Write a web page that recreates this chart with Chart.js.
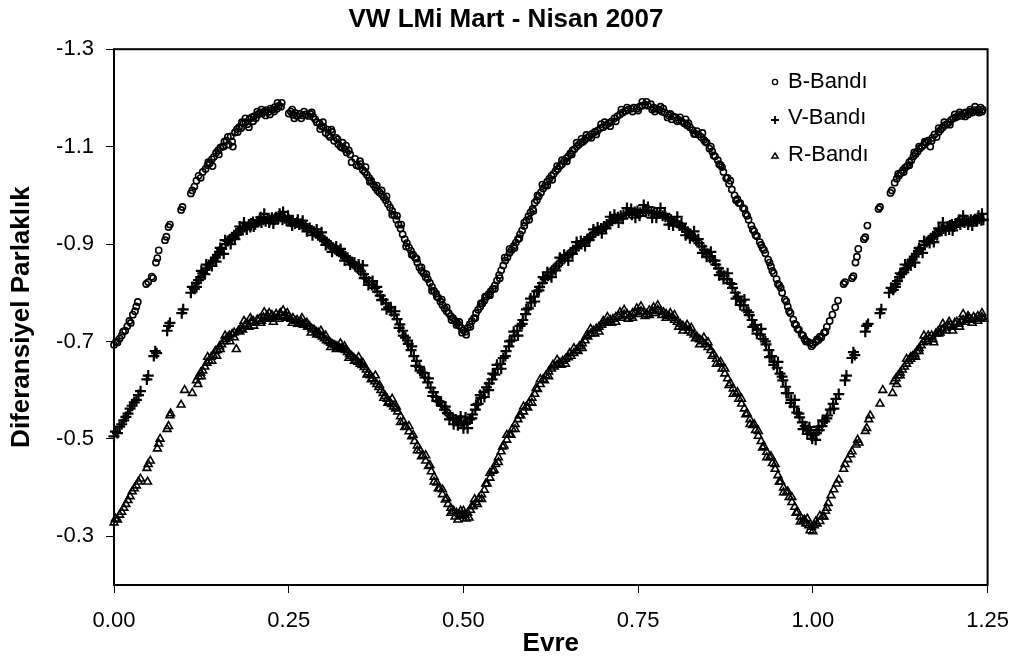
<!DOCTYPE html>
<html>
<head>
<meta charset="utf-8">
<title>VW LMi</title>
<script src="https://cdn.jsdelivr.net/npm/chart.js@4.4.0/dist/chart.umd.min.js"></script>
<style>
    body { margin: 0; background: #fff; }
    #grafik { display: block; }
</style>
</head>
<body>
<canvas id="grafik" width="1024" height="659"></canvas>
<script>
// Eksen etiketleri
var evreEtiketleri = [0, 0.25, 0.5, 0.75, 1.0, 1.25];
var parlaklikEtiketleri = [-1.3, -1.1, -0.9, -0.7, -0.5, -0.3];

var seriAdlari = ['B-Bandı', 'V-Bandı', 'R-Bandı'];

// [evre, diferansiyel parlaklik]
var bBandi = [
    [0.000, -0.693], [0.003, -0.700], [0.005, -0.698], [0.008, -0.706], [0.011, -0.712], [0.013, -0.720],
    [0.016, -0.722], [0.019, -0.731], [0.022, -0.742], [0.024, -0.738], [0.027, -0.755], [0.030, -0.762],
    [0.032, -0.772], [0.034, -0.781], [0.046, -0.818], [0.049, -0.822], [0.054, -0.833], [0.056, -0.830],
    [0.060, -0.862], [0.062, -0.871], [0.064, -0.887], [0.073, -0.908], [0.075, -0.915], [0.078, -0.935],
    [0.080, -0.940], [0.096, -0.970], [0.098, -0.976], [0.110, -1.004], [0.112, -1.010], [0.115, -1.018],
    [0.118, -1.030], [0.121, -1.040], [0.124, -1.036], [0.127, -1.048], [0.131, -1.054], [0.134, -1.062],
    [0.137, -1.066], [0.140, -1.074], [0.143, -1.079], [0.146, -1.087], [0.149, -1.092], [0.152, -1.098],
    [0.155, -1.100], [0.158, -1.110], [0.161, -1.112], [0.164, -1.104], [0.167, -1.121], [0.170, -1.100],
    [0.173, -1.129], [0.176, -1.136], [0.179, -1.140], [0.182, -1.138], [0.185, -1.148], [0.188, -1.150],
    [0.191, -1.146], [0.194, -1.157], [0.197, -1.160], [0.200, -1.162], [0.203, -1.158], [0.206, -1.166],
    [0.209, -1.170], [0.212, -1.168], [0.215, -1.172], [0.218, -1.175], [0.221, -1.171], [0.224, -1.178],
    [0.227, -1.176], [0.230, -1.181], [0.233, -1.178], [0.236, -1.184], [0.239, -1.182], [0.250, -1.168],
    [0.253, -1.172], [0.256, -1.165], [0.259, -1.169], [0.262, -1.163], [0.266, -1.167], [0.270, -1.164],
    [0.274, -1.166], [0.278, -1.163], [0.281, -1.167], [0.285, -1.161], [0.290, -1.150], [0.294, -1.148],
    [0.297, -1.142], [0.300, -1.140], [0.303, -1.128], [0.306, -1.135], [0.309, -1.120], [0.312, -1.130],
    [0.315, -1.112], [0.318, -1.118], [0.321, -1.105], [0.324, -1.100], [0.327, -1.108], [0.330, -1.095],
    [0.333, -1.088], [0.336, -1.092], [0.340, -1.068], [0.345, -1.075], [0.350, -1.060], [0.353, -1.064],
    [0.356, -1.052], [0.359, -1.048], [0.362, -1.042], [0.365, -1.036], [0.368, -1.030], [0.371, -1.022],
    [0.374, -1.016], [0.377, -1.010], [0.380, -1.006], [0.383, -1.002], [0.386, -0.996], [0.389, -0.990],
    [0.392, -0.982], [0.395, -0.975], [0.398, -0.968], [0.401, -0.960], [0.404, -0.950], [0.407, -0.940],
    [0.410, -0.932], [0.413, -0.920], [0.416, -0.910], [0.419, -0.902], [0.422, -0.893], [0.425, -0.886],
    [0.428, -0.878], [0.431, -0.872], [0.434, -0.862], [0.437, -0.852], [0.440, -0.845], [0.443, -0.840],
    [0.446, -0.832], [0.449, -0.828], [0.452, -0.820], [0.455, -0.812], [0.458, -0.804], [0.461, -0.798],
    [0.464, -0.790], [0.467, -0.782], [0.470, -0.775], [0.473, -0.768], [0.476, -0.762], [0.479, -0.758],
    [0.482, -0.752], [0.485, -0.748], [0.488, -0.742], [0.491, -0.738], [0.494, -0.733], [0.497, -0.728],
    [0.500, -0.723], [0.503, -0.720], [0.506, -0.728], [0.509, -0.735], [0.512, -0.742], [0.515, -0.748],
    [0.518, -0.758], [0.521, -0.765], [0.524, -0.771], [0.527, -0.778], [0.530, -0.784], [0.533, -0.792],
    [0.536, -0.797], [0.539, -0.803], [0.542, -0.808], [0.545, -0.815], [0.548, -0.825], [0.551, -0.836],
    [0.554, -0.846], [0.557, -0.856], [0.560, -0.866], [0.563, -0.873], [0.566, -0.882], [0.569, -0.888],
    [0.572, -0.896], [0.575, -0.903], [0.578, -0.910], [0.581, -0.920], [0.584, -0.928], [0.587, -0.937],
    [0.590, -0.948], [0.593, -0.957], [0.596, -0.965], [0.599, -0.972], [0.602, -0.985], [0.605, -0.990],
    [0.608, -0.998], [0.611, -1.006], [0.614, -1.014], [0.617, -1.020], [0.620, -1.028], [0.623, -1.034],
    [0.626, -1.040], [0.629, -1.044], [0.632, -1.050], [0.635, -1.054], [0.638, -1.060], [0.641, -1.064],
    [0.644, -1.070], [0.647, -1.076], [0.650, -1.080], [0.653, -1.086], [0.656, -1.092], [0.659, -1.095],
    [0.662, -1.100], [0.665, -1.104], [0.668, -1.108], [0.671, -1.110], [0.674, -1.114], [0.677, -1.118],
    [0.680, -1.121], [0.684, -1.126], [0.688, -1.130], [0.692, -1.133], [0.696, -1.138], [0.700, -1.140],
    [0.704, -1.144], [0.708, -1.148], [0.712, -1.152], [0.716, -1.158], [0.720, -1.162], [0.724, -1.166],
    [0.728, -1.170], [0.732, -1.173], [0.736, -1.176], [0.740, -1.178], [0.744, -1.180], [0.748, -1.178],
    [0.752, -1.182], [0.756, -1.184], [0.760, -1.186], [0.764, -1.184], [0.768, -1.187], [0.772, -1.180],
    [0.776, -1.178], [0.780, -1.176], [0.784, -1.172], [0.788, -1.170], [0.792, -1.160], [0.796, -1.167],
    [0.800, -1.162], [0.804, -1.160], [0.808, -1.155], [0.812, -1.152], [0.816, -1.148], [0.820, -1.144],
    [0.824, -1.140], [0.828, -1.134], [0.832, -1.126], [0.836, -1.125], [0.840, -1.120], [0.844, -1.114],
    [0.848, -1.108], [0.852, -1.096], [0.856, -1.090], [0.860, -1.080], [0.864, -1.072], [0.868, -1.062],
    [0.872, -1.048], [0.876, -1.035], [0.880, -1.024], [0.884, -1.012], [0.888, -1.000], [0.892, -0.992],
    [0.896, -0.984], [0.900, -0.974], [0.904, -0.962], [0.908, -0.950], [0.912, -0.938], [0.916, -0.926],
    [0.920, -0.916], [0.924, -0.904], [0.928, -0.892], [0.932, -0.881], [0.936, -0.868], [0.940, -0.854],
    [0.944, -0.840], [0.948, -0.828], [0.952, -0.815], [0.956, -0.800], [0.960, -0.786], [0.964, -0.772],
    [0.968, -0.758], [0.972, -0.745], [0.976, -0.734], [0.980, -0.724], [0.984, -0.714], [0.988, -0.705],
    [0.992, -0.700], [0.996, -0.697], [1.000, -0.694], [1.004, -0.699], [1.008, -0.703], [1.012, -0.708],
    [1.016, -0.718], [1.020, -0.730], [1.024, -0.742], [1.028, -0.755], [1.032, -0.770], [1.036, -0.784],
    [1.044, -0.818], [1.046, -0.822], [1.056, -0.830], [1.058, -0.834], [1.061, -0.862], [1.063, -0.874],
    [1.065, -0.890], [1.073, -0.910], [1.075, -0.914], [1.078, -0.938], [1.094, -0.972], [1.096, -0.976],
    [1.111, -1.005], [1.113, -1.010], [1.117, -1.026], [1.120, -1.034], [1.123, -1.040], [1.126, -1.046],
    [1.129, -1.052], [1.132, -1.057], [1.135, -1.060], [1.138, -1.068], [1.141, -1.072], [1.144, -1.080],
    [1.147, -1.085], [1.150, -1.090], [1.153, -1.096], [1.156, -1.100], [1.159, -1.104], [1.162, -1.108],
    [1.165, -1.112], [1.168, -1.100], [1.171, -1.118], [1.174, -1.125], [1.177, -1.120], [1.180, -1.130],
    [1.183, -1.135], [1.186, -1.140], [1.189, -1.144], [1.192, -1.146], [1.195, -1.150], [1.198, -1.155],
    [1.201, -1.158], [1.204, -1.160], [1.207, -1.162], [1.210, -1.165], [1.213, -1.163], [1.216, -1.168],
    [1.219, -1.170], [1.222, -1.166], [1.225, -1.172], [1.228, -1.170], [1.231, -1.175], [1.234, -1.172],
    [1.237, -1.176], [1.240, -1.180], [1.243, -1.176],
    // sacilan noktalar
    [0.141, -1.060], [0.157, -1.100], [0.169, -1.110], [0.183, -1.150], [0.193, -1.140], [0.205, -1.172],
    [0.217, -1.164], [0.229, -1.172], [0.240, -1.190], [0.258, -1.158], [0.272, -1.172], [0.288, -1.156],
    [0.299, -1.150], [0.311, -1.135], [0.320, -1.115], [0.332, -1.102], [0.347, -1.062], [0.360, -1.058],
    [0.376, -1.020], [0.390, -0.998], [0.405, -0.958], [0.418, -0.895], [0.433, -0.870], [0.447, -0.838],
    [0.462, -0.792], [0.476, -0.770], [0.490, -0.734], [0.498, -0.718], [0.510, -0.730], [0.525, -0.778],
    [0.538, -0.795], [0.552, -0.830], [0.566, -0.890], [0.580, -0.912], [0.594, -0.950], [0.606, -1.000],
    [0.620, -1.020], [0.634, -1.060], [0.648, -1.070], [0.662, -1.108], [0.676, -1.124], [0.690, -1.125],
    [0.702, -1.150], [0.718, -1.152], [0.734, -1.180], [0.750, -1.174], [0.762, -1.192], [0.774, -1.172],
    [0.786, -1.178], [0.798, -1.156], [0.810, -1.160], [0.822, -1.148], [0.834, -1.132], [0.846, -1.110],
    [0.858, -1.082], [0.870, -1.058], [0.882, -1.030], [0.894, -0.984], [0.906, -0.958], [0.918, -0.918],
    [0.930, -0.888], [0.942, -0.845], [0.954, -0.810], [0.966, -0.762], [0.978, -0.726], [0.990, -0.700],
    [1.010, -0.710], [1.130, -1.048], [1.145, -1.088], [1.160, -1.110], [1.180, -1.138], [1.196, -1.145],
    [1.210, -1.170], [1.225, -1.176], [1.238, -1.170],
    [0.135, -1.068], [0.150, -1.084], [0.163, -1.120], [0.177, -1.130], [0.188, -1.158], [0.199, -1.152],
    [0.211, -1.176], [0.223, -1.166], [0.234, -1.190], [0.255, -1.176], [0.268, -1.158], [0.283, -1.170],
    [0.295, -1.136], [0.307, -1.124], [0.326, -1.098], [0.338, -1.084], [0.352, -1.070], [0.366, -1.028],
    [0.383, -1.010], [0.398, -0.960], [0.411, -0.940], [0.426, -0.878], [0.440, -0.852], [0.455, -0.804],
    [0.469, -0.786], [0.483, -0.744], [0.494, -0.740], [0.504, -0.714], [0.517, -0.748], [0.531, -0.792],
    [0.545, -0.808], [0.559, -0.872], [0.573, -0.892], [0.587, -0.944], [0.600, -0.968], [0.613, -1.022],
    [0.627, -1.032], [0.641, -1.072], [0.655, -1.084], [0.669, -1.116], [0.683, -1.118], [0.697, -1.146],
    [0.710, -1.142], [0.726, -1.176], [0.742, -1.172], [0.756, -1.192], [0.770, -1.176], [0.782, -1.182],
    [0.794, -1.164], [0.806, -1.152], [0.818, -1.156], [0.830, -1.126], [0.842, -1.128], [0.854, -1.100],
    [0.866, -1.064], [0.878, -1.036], [0.890, -0.990], [0.902, -0.972], [0.914, -0.930], [0.926, -0.898],
    [0.938, -0.862], [0.950, -0.818], [0.962, -0.782], [0.974, -0.736], [0.986, -0.712], [0.998, -0.690],
    [1.006, -0.704], [1.018, -0.720], [1.122, -1.044], [1.138, -1.062], [1.152, -1.100], [1.170, -1.112],
    [1.188, -1.150], [1.203, -1.166], [1.218, -1.162], [1.232, -1.182], [1.242, -1.172]
];

var vBandi = [
    [0.000, -0.505], [0.002, -0.515], [0.005, -0.512], [0.008, -0.525], [0.011, -0.530], [0.014, -0.538],
    [0.017, -0.545], [0.020, -0.552], [0.023, -0.562], [0.026, -0.568], [0.029, -0.575], [0.032, -0.580],
    [0.035, -0.590], [0.038, -0.598], [0.047, -0.622], [0.049, -0.630], [0.057, -0.670], [0.059, -0.680],
    [0.061, -0.676], [0.076, -0.722], [0.078, -0.732], [0.080, -0.738], [0.097, -0.758], [0.099, -0.766],
    [0.110, -0.800], [0.112, -0.812], [0.115, -0.808], [0.118, -0.820], [0.121, -0.826], [0.124, -0.832],
    [0.127, -0.840], [0.130, -0.838], [0.133, -0.850], [0.136, -0.856], [0.139, -0.862], [0.142, -0.866],
    [0.145, -0.872], [0.148, -0.878], [0.151, -0.884], [0.154, -0.890], [0.157, -0.880], [0.160, -0.900],
    [0.163, -0.906], [0.166, -0.910], [0.169, -0.914], [0.172, -0.918], [0.175, -0.922], [0.178, -0.920],
    [0.181, -0.928], [0.184, -0.932], [0.187, -0.935], [0.190, -0.930], [0.193, -0.940], [0.196, -0.942],
    [0.199, -0.945], [0.202, -0.940], [0.205, -0.946], [0.208, -0.948], [0.211, -0.944], [0.214, -0.950],
    [0.217, -0.947], [0.220, -0.952], [0.223, -0.949], [0.226, -0.954], [0.229, -0.950], [0.232, -0.955],
    [0.235, -0.952], [0.238, -0.956], [0.241, -0.950], [0.244, -0.953], [0.247, -0.948], [0.250, -0.950],
    [0.253, -0.946], [0.256, -0.948], [0.259, -0.942], [0.262, -0.944], [0.265, -0.940], [0.268, -0.941],
    [0.271, -0.936], [0.274, -0.938], [0.277, -0.932], [0.280, -0.933], [0.283, -0.928], [0.286, -0.925],
    [0.289, -0.922], [0.292, -0.918], [0.295, -0.915], [0.298, -0.912], [0.301, -0.908], [0.304, -0.904],
    [0.307, -0.900], [0.310, -0.897], [0.313, -0.893], [0.316, -0.890], [0.319, -0.886], [0.322, -0.884],
    [0.325, -0.880], [0.328, -0.878], [0.331, -0.875], [0.334, -0.872], [0.337, -0.866], [0.341, -0.862],
    [0.345, -0.855], [0.349, -0.850], [0.353, -0.844], [0.356, -0.856], [0.357, -0.838], [0.361, -0.830],
    [0.365, -0.823], [0.369, -0.816], [0.373, -0.810], [0.377, -0.802], [0.381, -0.794], [0.385, -0.786],
    [0.389, -0.778], [0.393, -0.770], [0.397, -0.762], [0.401, -0.755], [0.405, -0.746], [0.409, -0.735],
    [0.413, -0.722], [0.417, -0.708], [0.421, -0.695], [0.425, -0.682], [0.429, -0.670], [0.433, -0.660],
    [0.437, -0.648], [0.441, -0.636], [0.445, -0.626], [0.449, -0.616], [0.453, -0.605], [0.457, -0.596],
    [0.461, -0.586], [0.465, -0.577], [0.469, -0.568], [0.473, -0.560], [0.477, -0.553], [0.481, -0.548],
    [0.485, -0.543], [0.489, -0.540], [0.493, -0.536], [0.497, -0.532], [0.501, -0.530], [0.505, -0.534],
    [0.509, -0.540], [0.513, -0.550], [0.517, -0.560], [0.521, -0.572], [0.525, -0.584], [0.529, -0.596],
    [0.533, -0.606], [0.537, -0.614], [0.541, -0.622], [0.545, -0.632], [0.549, -0.644], [0.553, -0.654],
    [0.557, -0.666], [0.561, -0.680], [0.565, -0.690], [0.569, -0.702], [0.573, -0.712], [0.577, -0.722],
    [0.581, -0.732], [0.585, -0.744], [0.589, -0.756], [0.593, -0.768], [0.597, -0.780], [0.601, -0.792],
    [0.605, -0.803], [0.609, -0.812], [0.613, -0.820], [0.617, -0.828], [0.621, -0.835], [0.625, -0.842],
    [0.629, -0.848], [0.633, -0.854], [0.637, -0.860], [0.641, -0.866], [0.645, -0.872], [0.649, -0.876],
    [0.653, -0.882], [0.657, -0.887], [0.661, -0.892], [0.665, -0.896], [0.669, -0.900], [0.673, -0.905],
    [0.677, -0.910], [0.681, -0.914], [0.685, -0.920], [0.689, -0.924], [0.693, -0.928], [0.697, -0.932],
    [0.701, -0.936], [0.705, -0.940], [0.709, -0.944], [0.713, -0.948], [0.717, -0.952], [0.721, -0.955],
    [0.725, -0.958], [0.729, -0.960], [0.733, -0.962], [0.737, -0.964], [0.741, -0.960], [0.745, -0.966],
    [0.749, -0.968], [0.753, -0.964], [0.757, -0.970], [0.761, -0.966], [0.765, -0.968], [0.769, -0.964],
    [0.773, -0.966], [0.777, -0.962], [0.781, -0.963], [0.785, -0.958], [0.789, -0.956], [0.793, -0.952],
    [0.797, -0.950], [0.801, -0.946], [0.805, -0.944], [0.809, -0.938], [0.813, -0.934], [0.817, -0.930],
    [0.821, -0.925], [0.825, -0.920], [0.829, -0.915], [0.833, -0.908], [0.837, -0.902], [0.841, -0.895],
    [0.845, -0.888], [0.849, -0.880], [0.853, -0.872], [0.857, -0.866], [0.861, -0.858], [0.865, -0.850],
    [0.869, -0.842], [0.873, -0.835], [0.877, -0.828], [0.881, -0.820], [0.885, -0.810], [0.889, -0.800],
    [0.893, -0.792], [0.897, -0.782], [0.901, -0.774], [0.905, -0.764], [0.909, -0.754], [0.913, -0.744],
    [0.917, -0.734], [0.921, -0.724], [0.925, -0.714], [0.929, -0.705], [0.933, -0.694], [0.937, -0.682],
    [0.941, -0.670], [0.945, -0.658], [0.949, -0.646], [0.953, -0.634], [0.957, -0.620], [0.961, -0.607],
    [0.965, -0.594], [0.969, -0.580], [0.973, -0.566], [0.977, -0.554], [0.981, -0.544], [0.985, -0.534],
    [0.989, -0.526], [0.993, -0.518], [0.997, -0.512], [1.001, -0.508], [1.005, -0.512], [1.009, -0.518],
    [1.013, -0.526], [1.017, -0.536], [1.021, -0.548], [1.025, -0.560], [1.029, -0.572], [1.033, -0.582],
    [1.037, -0.592], [1.046, -0.620], [1.048, -0.630], [1.056, -0.666], [1.058, -0.678], [1.060, -0.672],
    [1.075, -0.720], [1.077, -0.732], [1.079, -0.736], [1.096, -0.758], [1.098, -0.766], [1.109, -0.800],
    [1.112, -0.810], [1.115, -0.806], [1.118, -0.818], [1.121, -0.824], [1.124, -0.832], [1.127, -0.838],
    [1.130, -0.842], [1.133, -0.850], [1.136, -0.856], [1.139, -0.862], [1.142, -0.868], [1.145, -0.874],
    [1.148, -0.880], [1.151, -0.886], [1.154, -0.890], [1.157, -0.882], [1.160, -0.898], [1.163, -0.904],
    [1.166, -0.908], [1.169, -0.912], [1.172, -0.916], [1.175, -0.920], [1.178, -0.918], [1.181, -0.926],
    [1.184, -0.930], [1.187, -0.932], [1.190, -0.928], [1.193, -0.936], [1.196, -0.938], [1.199, -0.940],
    [1.202, -0.936], [1.205, -0.942], [1.208, -0.944], [1.211, -0.940], [1.214, -0.946], [1.217, -0.944],
    [1.220, -0.948], [1.223, -0.945], [1.226, -0.950], [1.229, -0.947], [1.232, -0.951], [1.235, -0.948],
    [1.238, -0.952], [1.241, -0.949], [1.244, -0.950],
    // sacilan noktalar
    [0.125, -0.845], [0.140, -0.855], [0.152, -0.892], [0.167, -0.900], [0.180, -0.936], [0.195, -0.935],
    [0.210, -0.955], [0.222, -0.944], [0.237, -0.962], [0.249, -0.958], [0.263, -0.950], [0.276, -0.926],
    [0.290, -0.930], [0.303, -0.898], [0.318, -0.895], [0.330, -0.866], [0.344, -0.862], [0.358, -0.830],
    [0.370, -0.824], [0.383, -0.785], [0.396, -0.770], [0.408, -0.728], [0.420, -0.702], [0.432, -0.650],
    [0.444, -0.635], [0.456, -0.588], [0.468, -0.575], [0.480, -0.540], [0.492, -0.528], [0.500, -0.522],
    [0.503, -0.544], [0.512, -0.542], [0.524, -0.590], [0.536, -0.600], [0.548, -0.652], [0.560, -0.670],
    [0.572, -0.720], [0.584, -0.736], [0.596, -0.788], [0.608, -0.805], [0.620, -0.842], [0.632, -0.846],
    [0.644, -0.878], [0.656, -0.880], [0.668, -0.906], [0.680, -0.908], [0.692, -0.934], [0.704, -0.932],
    [0.716, -0.960], [0.728, -0.952], [0.740, -0.972], [0.752, -0.958], [0.764, -0.976], [0.776, -0.954],
    [0.788, -0.962], [0.800, -0.938], [0.812, -0.942], [0.824, -0.912], [0.836, -0.910], [0.848, -0.874],
    [0.860, -0.866], [0.872, -0.828], [0.884, -0.818], [0.896, -0.775], [0.908, -0.760], [0.920, -0.716],
    [0.932, -0.700], [0.944, -0.652], [0.956, -0.628], [0.968, -0.574], [0.980, -0.552], [0.992, -0.510],
    [0.999, -0.500], [1.008, -0.525], [1.020, -0.542], [1.125, -0.840], [1.140, -0.856], [1.152, -0.892],
    [1.167, -0.902], [1.180, -0.932], [1.195, -0.930], [1.210, -0.950], [1.222, -0.940], [1.237, -0.958],
    [0.118, -0.812], [0.132, -0.858], [0.146, -0.864], [0.159, -0.908], [0.173, -0.910], [0.186, -0.944],
    [0.200, -0.936], [0.215, -0.962], [0.228, -0.942], [0.242, -0.966], [0.255, -0.938], [0.270, -0.948],
    [0.284, -0.918], [0.297, -0.924], [0.312, -0.884], [0.324, -0.890], [0.338, -0.858], [0.350, -0.858],
    [0.364, -0.816], [0.376, -0.812], [0.390, -0.766], [0.402, -0.762], [0.414, -0.712], [0.426, -0.690],
    [0.438, -0.640], [0.450, -0.624], [0.462, -0.578], [0.474, -0.566], [0.486, -0.530], [0.496, -0.546],
    [0.506, -0.522], [0.518, -0.570], [0.530, -0.586], [0.542, -0.634], [0.554, -0.644], [0.566, -0.700],
    [0.578, -0.712], [0.590, -0.766], [0.602, -0.782], [0.614, -0.832], [0.626, -0.832], [0.638, -0.872],
    [0.650, -0.866], [0.662, -0.904], [0.674, -0.896], [0.686, -0.930], [0.698, -0.922], [0.710, -0.956],
    [0.722, -0.944], [0.734, -0.974], [0.746, -0.954], [0.758, -0.980], [0.770, -0.954], [0.782, -0.974],
    [0.794, -0.940], [0.806, -0.956], [0.818, -0.918], [0.830, -0.926], [0.842, -0.882], [0.854, -0.884],
    [0.866, -0.836], [0.878, -0.840], [0.890, -0.788], [0.902, -0.786], [0.914, -0.730], [0.926, -0.726],
    [0.938, -0.668], [0.950, -0.658], [0.962, -0.594], [0.974, -0.580], [0.986, -0.520], [0.995, -0.524],
    [1.004, -0.498], [1.014, -0.538], [1.030, -0.562], [1.118, -0.812], [1.132, -0.858], [1.146, -0.862],
    [1.159, -0.906], [1.173, -0.904], [1.186, -0.944], [1.200, -0.928], [1.215, -0.958], [1.228, -0.938],
    [1.242, -0.962]
];

var rBandi = [
    [0.000, -0.328], [0.002, -0.336], [0.005, -0.334], [0.008, -0.344], [0.011, -0.350], [0.014, -0.358],
    [0.017, -0.366], [0.020, -0.374], [0.023, -0.382], [0.026, -0.392], [0.029, -0.398], [0.032, -0.404],
    [0.035, -0.412], [0.038, -0.418], [0.047, -0.440], [0.048, -0.412], [0.049, -0.448], [0.052, -0.455],
    [0.062, -0.480], [0.064, -0.490], [0.066, -0.500], [0.076, -0.520], [0.078, -0.526], [0.080, -0.548],
    [0.081, -0.552], [0.096, -0.570], [0.101, -0.600], [0.112, -0.594], [0.118, -0.620], [0.121, -0.628],
    [0.124, -0.636], [0.127, -0.640], [0.130, -0.648], [0.133, -0.656], [0.136, -0.660], [0.139, -0.668],
    [0.142, -0.672], [0.145, -0.680], [0.148, -0.682], [0.151, -0.690], [0.154, -0.694], [0.157, -0.700],
    [0.160, -0.704], [0.163, -0.708], [0.166, -0.700], [0.169, -0.715], [0.172, -0.718], [0.175, -0.684],
    [0.178, -0.722], [0.181, -0.726], [0.184, -0.724], [0.187, -0.732], [0.190, -0.736], [0.193, -0.730],
    [0.196, -0.740], [0.199, -0.742], [0.202, -0.738], [0.205, -0.745], [0.208, -0.746], [0.211, -0.742],
    [0.214, -0.749], [0.217, -0.748], [0.220, -0.752], [0.223, -0.746], [0.226, -0.754], [0.229, -0.750],
    [0.232, -0.756], [0.235, -0.752], [0.238, -0.758], [0.241, -0.750], [0.244, -0.753], [0.247, -0.748],
    [0.250, -0.751], [0.253, -0.746], [0.256, -0.748], [0.259, -0.742], [0.262, -0.744], [0.265, -0.738],
    [0.268, -0.740], [0.271, -0.734], [0.274, -0.736], [0.277, -0.730], [0.280, -0.731], [0.283, -0.726],
    [0.286, -0.724], [0.289, -0.720], [0.292, -0.718], [0.295, -0.713], [0.298, -0.710], [0.301, -0.706],
    [0.304, -0.702], [0.307, -0.700], [0.310, -0.697], [0.313, -0.694], [0.316, -0.692], [0.319, -0.690],
    [0.322, -0.687], [0.325, -0.686], [0.328, -0.684], [0.331, -0.682], [0.334, -0.678], [0.337, -0.674],
    [0.340, -0.670], [0.343, -0.666], [0.346, -0.662], [0.349, -0.658], [0.352, -0.654], [0.355, -0.651],
    [0.358, -0.647], [0.361, -0.642], [0.364, -0.636], [0.367, -0.630], [0.370, -0.624], [0.373, -0.618],
    [0.376, -0.612], [0.379, -0.606], [0.382, -0.600], [0.385, -0.594], [0.388, -0.588], [0.391, -0.582],
    [0.394, -0.576], [0.397, -0.571], [0.400, -0.566], [0.403, -0.562], [0.406, -0.556], [0.410, -0.546],
    [0.414, -0.536], [0.418, -0.525], [0.422, -0.515], [0.426, -0.505], [0.430, -0.495], [0.434, -0.486],
    [0.438, -0.476], [0.442, -0.466], [0.446, -0.455], [0.450, -0.444], [0.454, -0.433], [0.458, -0.422],
    [0.462, -0.410], [0.466, -0.398], [0.470, -0.386], [0.474, -0.375], [0.478, -0.366], [0.482, -0.358],
    [0.486, -0.352], [0.490, -0.348], [0.494, -0.345], [0.498, -0.342], [0.502, -0.344], [0.506, -0.348],
    [0.510, -0.354], [0.514, -0.362], [0.518, -0.370], [0.522, -0.378], [0.526, -0.386], [0.530, -0.395],
    [0.534, -0.408], [0.538, -0.420], [0.542, -0.434], [0.546, -0.448], [0.550, -0.462], [0.554, -0.474],
    [0.558, -0.486], [0.562, -0.498], [0.566, -0.509], [0.570, -0.520], [0.574, -0.530], [0.578, -0.540],
    [0.582, -0.548], [0.586, -0.556], [0.590, -0.566], [0.594, -0.574], [0.598, -0.584], [0.602, -0.592],
    [0.606, -0.602], [0.610, -0.612], [0.614, -0.622], [0.618, -0.630], [0.622, -0.638], [0.626, -0.644],
    [0.630, -0.648], [0.634, -0.652], [0.638, -0.656], [0.642, -0.660], [0.646, -0.664], [0.650, -0.667],
    [0.654, -0.670], [0.658, -0.676], [0.662, -0.682], [0.666, -0.690], [0.670, -0.696], [0.674, -0.702],
    [0.678, -0.710], [0.682, -0.716], [0.686, -0.722], [0.690, -0.726], [0.694, -0.730], [0.698, -0.734],
    [0.702, -0.738], [0.706, -0.740], [0.710, -0.744], [0.714, -0.746], [0.718, -0.750], [0.722, -0.752],
    [0.726, -0.748], [0.730, -0.755], [0.734, -0.756], [0.738, -0.752], [0.742, -0.758], [0.746, -0.760],
    [0.750, -0.756], [0.754, -0.762], [0.758, -0.760], [0.762, -0.756], [0.766, -0.764], [0.770, -0.762],
    [0.774, -0.758], [0.778, -0.765], [0.782, -0.762], [0.786, -0.760], [0.790, -0.756], [0.794, -0.752],
    [0.798, -0.748], [0.802, -0.744], [0.806, -0.740], [0.810, -0.736], [0.814, -0.732], [0.818, -0.728],
    [0.822, -0.722], [0.826, -0.718], [0.830, -0.714], [0.834, -0.710], [0.838, -0.704], [0.842, -0.700],
    [0.846, -0.694], [0.850, -0.688], [0.854, -0.682], [0.858, -0.674], [0.862, -0.664], [0.866, -0.654],
    [0.870, -0.644], [0.874, -0.634], [0.878, -0.624], [0.882, -0.614], [0.886, -0.603], [0.890, -0.592],
    [0.894, -0.582], [0.898, -0.572], [0.902, -0.562], [0.906, -0.552], [0.910, -0.540], [0.914, -0.528],
    [0.918, -0.518], [0.922, -0.506], [0.926, -0.495], [0.930, -0.484], [0.934, -0.473], [0.938, -0.462],
    [0.942, -0.450], [0.946, -0.438], [0.950, -0.425], [0.954, -0.412], [0.958, -0.400], [0.962, -0.390],
    [0.966, -0.380], [0.970, -0.370], [0.974, -0.360], [0.978, -0.350], [0.982, -0.340], [0.986, -0.332],
    [0.990, -0.326], [0.994, -0.322], [0.998, -0.319], [1.002, -0.322], [1.006, -0.326], [1.010, -0.331],
    [1.014, -0.340], [1.018, -0.352], [1.022, -0.368], [1.026, -0.384], [1.030, -0.396], [1.034, -0.408],
    [1.037, -0.416], [1.044, -0.438], [1.046, -0.448], [1.050, -0.458], [1.054, -0.468], [1.056, -0.474],
    [1.062, -0.488], [1.064, -0.498], [1.066, -0.492], [1.075, -0.516], [1.077, -0.522], [1.080, -0.540],
    [1.082, -0.548], [1.096, -0.572], [1.100, -0.600], [1.114, -0.594], [1.116, -0.618], [1.119, -0.624],
    [1.122, -0.630], [1.125, -0.636], [1.128, -0.642], [1.131, -0.648], [1.134, -0.654], [1.137, -0.660],
    [1.140, -0.664], [1.143, -0.670], [1.146, -0.674], [1.149, -0.680], [1.152, -0.686], [1.155, -0.692],
    [1.158, -0.698], [1.161, -0.704], [1.164, -0.700], [1.167, -0.708], [1.170, -0.712], [1.173, -0.698],
    [1.176, -0.716], [1.179, -0.720], [1.182, -0.718], [1.185, -0.724], [1.188, -0.728], [1.191, -0.722],
    [1.194, -0.732], [1.197, -0.734], [1.200, -0.730], [1.203, -0.738], [1.206, -0.740], [1.209, -0.736],
    [1.212, -0.742], [1.215, -0.744], [1.218, -0.740], [1.221, -0.746], [1.224, -0.748], [1.227, -0.744],
    [1.230, -0.750], [1.233, -0.746], [1.236, -0.752], [1.239, -0.748], [1.242, -0.750], [1.245, -0.746],
    // sacilan noktalar
    [0.125, -0.628], [0.140, -0.660], [0.152, -0.684], [0.165, -0.712], [0.180, -0.720], [0.195, -0.748],
    [0.210, -0.738], [0.222, -0.758], [0.236, -0.746], [0.248, -0.758], [0.263, -0.736], [0.276, -0.738],
    [0.290, -0.714], [0.303, -0.712], [0.318, -0.684], [0.330, -0.690], [0.344, -0.660], [0.356, -0.656],
    [0.368, -0.622], [0.380, -0.610], [0.392, -0.574], [0.404, -0.566], [0.416, -0.524], [0.428, -0.508],
    [0.440, -0.464], [0.452, -0.446], [0.464, -0.398], [0.476, -0.378], [0.488, -0.340], [0.496, -0.352],
    [0.504, -0.336], [0.512, -0.362], [0.520, -0.366], [0.532, -0.408], [0.544, -0.436], [0.556, -0.484],
    [0.568, -0.508], [0.580, -0.548], [0.592, -0.564], [0.604, -0.604], [0.616, -0.620], [0.628, -0.652],
    [0.640, -0.652], [0.652, -0.676], [0.664, -0.680], [0.676, -0.712], [0.688, -0.716], [0.700, -0.742],
    [0.712, -0.738], [0.724, -0.760], [0.736, -0.746], [0.748, -0.768], [0.760, -0.752], [0.772, -0.770],
    [0.784, -0.754], [0.796, -0.758], [0.808, -0.730], [0.820, -0.734], [0.832, -0.706], [0.844, -0.708],
    [0.856, -0.670], [0.868, -0.658], [0.880, -0.610], [0.892, -0.596], [0.904, -0.550], [0.916, -0.530],
    [0.928, -0.482], [0.940, -0.464], [0.952, -0.412], [0.964, -0.392], [0.976, -0.348], [0.988, -0.334],
    [0.996, -0.312], [1.004, -0.330], [1.016, -0.340], [1.125, -0.630], [1.140, -0.668], [1.152, -0.680],
    [1.165, -0.712], [1.180, -0.716], [1.195, -0.740], [1.210, -0.730], [1.222, -0.752], [1.236, -0.742],
    [0.120, -0.612], [0.134, -0.668], [0.147, -0.670], [0.159, -0.712], [0.172, -0.708], [0.186, -0.742],
    [0.200, -0.732], [0.215, -0.760], [0.228, -0.740], [0.242, -0.764], [0.255, -0.738], [0.269, -0.748],
    [0.282, -0.718], [0.296, -0.722], [0.310, -0.688], [0.324, -0.696], [0.336, -0.666], [0.350, -0.668],
    [0.362, -0.632], [0.374, -0.630], [0.386, -0.584], [0.398, -0.582], [0.410, -0.534], [0.422, -0.526],
    [0.434, -0.476], [0.446, -0.466], [0.458, -0.412], [0.470, -0.396], [0.482, -0.348], [0.492, -0.334],
    [0.500, -0.352], [0.508, -0.338], [0.516, -0.376], [0.526, -0.376], [0.538, -0.430], [0.550, -0.452],
    [0.562, -0.508], [0.574, -0.520], [0.586, -0.566], [0.598, -0.574], [0.610, -0.622], [0.622, -0.628],
    [0.634, -0.662], [0.646, -0.654], [0.658, -0.686], [0.670, -0.686], [0.682, -0.726], [0.694, -0.720],
    [0.706, -0.750], [0.718, -0.740], [0.730, -0.765], [0.742, -0.748], [0.754, -0.772], [0.766, -0.754],
    [0.778, -0.774], [0.790, -0.748], [0.802, -0.754], [0.814, -0.722], [0.826, -0.728], [0.838, -0.694],
    [0.850, -0.698], [0.862, -0.654], [0.874, -0.644], [0.886, -0.592], [0.898, -0.582], [0.910, -0.530],
    [0.922, -0.516], [0.934, -0.462], [0.946, -0.448], [0.958, -0.390], [0.970, -0.380], [0.982, -0.330],
    [0.992, -0.336], [1.000, -0.310], [1.010, -0.342], [1.020, -0.358], [1.120, -0.612], [1.134, -0.664],
    [1.147, -0.668], [1.159, -0.712], [1.172, -0.704], [1.186, -0.736], [1.200, -0.722], [1.215, -0.756],
    [1.228, -0.738], [1.242, -0.758]
];

var yazi = '"Liberation Sans", Arial, sans-serif';
Chart.defaults.font.family = yazi;
Chart.defaults.color = '#000';

function noktalar(dizi) {
    return dizi.map(function (p) { return { x: p[0], y: p[1] }; });
}

// cerceve + lejant (grafik alaninin icinde)
var cercevePlugin = {
    id: 'cerceve',
    afterDraw: function (chart) {
        var ctx = chart.ctx;
        var a = chart.chartArea;
        ctx.save();
        ctx.strokeStyle = '#000';
        ctx.lineWidth = 2;
        ctx.strokeRect(a.left, a.top, a.right - a.left, a.bottom - a.top);

        var lx = 775;
        var ly = [82, 118, 155];
        ctx.lineWidth = 1.4;
        ctx.beginPath();
        ctx.arc(lx, ly[0], 2.6, 0, Math.PI * 2);
        ctx.stroke();
        ctx.lineWidth = 1.8;
        ctx.beginPath();
        ctx.moveTo(lx - 4, ly[1] + 2); ctx.lineTo(lx + 4, ly[1] + 2);
        ctx.moveTo(lx, ly[1] - 2); ctx.lineTo(lx, ly[1] + 6);
        ctx.stroke();
        ctx.lineWidth = 1.4;
        ctx.beginPath();
        ctx.moveTo(lx, ly[2] - 2); ctx.lineTo(lx + 3.2, ly[2] + 3); ctx.lineTo(lx - 3.2, ly[2] + 3);
        ctx.closePath();
        ctx.stroke();

        ctx.fillStyle = '#000';
        ctx.font = '22px ' + yazi;
        ctx.textBaseline = 'middle';
        ctx.textAlign = 'left';
        for (var i = 0; i < seriAdlari.length; i++) {
            ctx.fillText(seriAdlari[i], lx + 13, ly[i]);
        }
        ctx.restore();
    }
};

new Chart(document.getElementById('grafik'), {
    type: 'scatter',
    data: {
        datasets: [{
            label: seriAdlari[0],
            data: noktalar(bBandi),
            pointStyle: 'circle',
            pointRadius: 3.1,
            borderWidth: 1.6,
            borderColor: '#000',
            backgroundColor: 'rgba(0,0,0,0)',
            clip: false
        }, {
            label: seriAdlari[1],
            data: noktalar(vBandi),
            pointStyle: 'cross',
            pointRadius: 5.5,
            borderWidth: 2.2,
            borderColor: '#000',
            backgroundColor: 'rgba(0,0,0,0)',
            clip: false
        }, {
            label: seriAdlari[2],
            data: noktalar(rBandi),
            pointStyle: 'triangle',
            pointRadius: 4.5,
            borderWidth: 1.6,
            borderColor: '#000',
            backgroundColor: 'rgba(0,0,0,0)',
            clip: false
        }]
    },
    options: {
        responsive: false,
        animation: false,
        layout: { padding: { left: 18, right: 30, top: 0, bottom: 0 } },
        plugins: {
            legend: { display: false },
            tooltip: { enabled: false },
            title: {
                display: true,
                text: 'VW LMi Mart - Nisan 2007',
                font: { size: 26, weight: 'bold' },
                color: '#000',
                padding: { top: 4, bottom: 14 }
            }
        },
        scales: {
            x: {
                type: 'linear',
                min: 0,
                max: 1.25,
                afterBuildTicks: function (scale) {
                    scale.ticks = evreEtiketleri.map(function (v) { return { value: v }; });
                },
                afterFit: function (scale) { scale.height = 74; },
                ticks: {
                    autoSkip: false,
                    maxRotation: 0,
                    padding: 15,
                    font: { size: 22 },
                    callback: function (v) { return Number(v).toFixed(2); }
                },
                grid: { drawOnChartArea: false, drawTicks: true, tickLength: 8, color: '#000' },
                border: { display: false },
                title: {
                    display: true,
                    text: 'Evre',
                    font: { size: 26, weight: 'bold' },
                    padding: { top: 0, bottom: 0 }
                }
            },
            y: {
                type: 'linear',
                reverse: true,
                min: -1.3,
                max: -0.2,
                afterBuildTicks: function (scale) {
                    scale.ticks = parlaklikEtiketleri.map(function (v) { return { value: v }; });
                },
                afterFit: function (scale) { scale.width = 96; },
                ticks: {
                    autoSkip: false,
                    padding: 12,
                    font: { size: 22 },
                    callback: function (v) { return Number(v).toFixed(1); }
                },
                grid: { drawOnChartArea: false, drawTicks: true, tickLength: 8, color: '#000' },
                border: { display: false },
                title: {
                    display: true,
                    text: 'Diferansiyel Parlaklık',
                    font: { size: 26, weight: 'bold' },
                    padding: { top: -12, bottom: 0 }
                }
            }
        }
    },
    plugins: [cercevePlugin]
});
</script>
</body>
</html>
